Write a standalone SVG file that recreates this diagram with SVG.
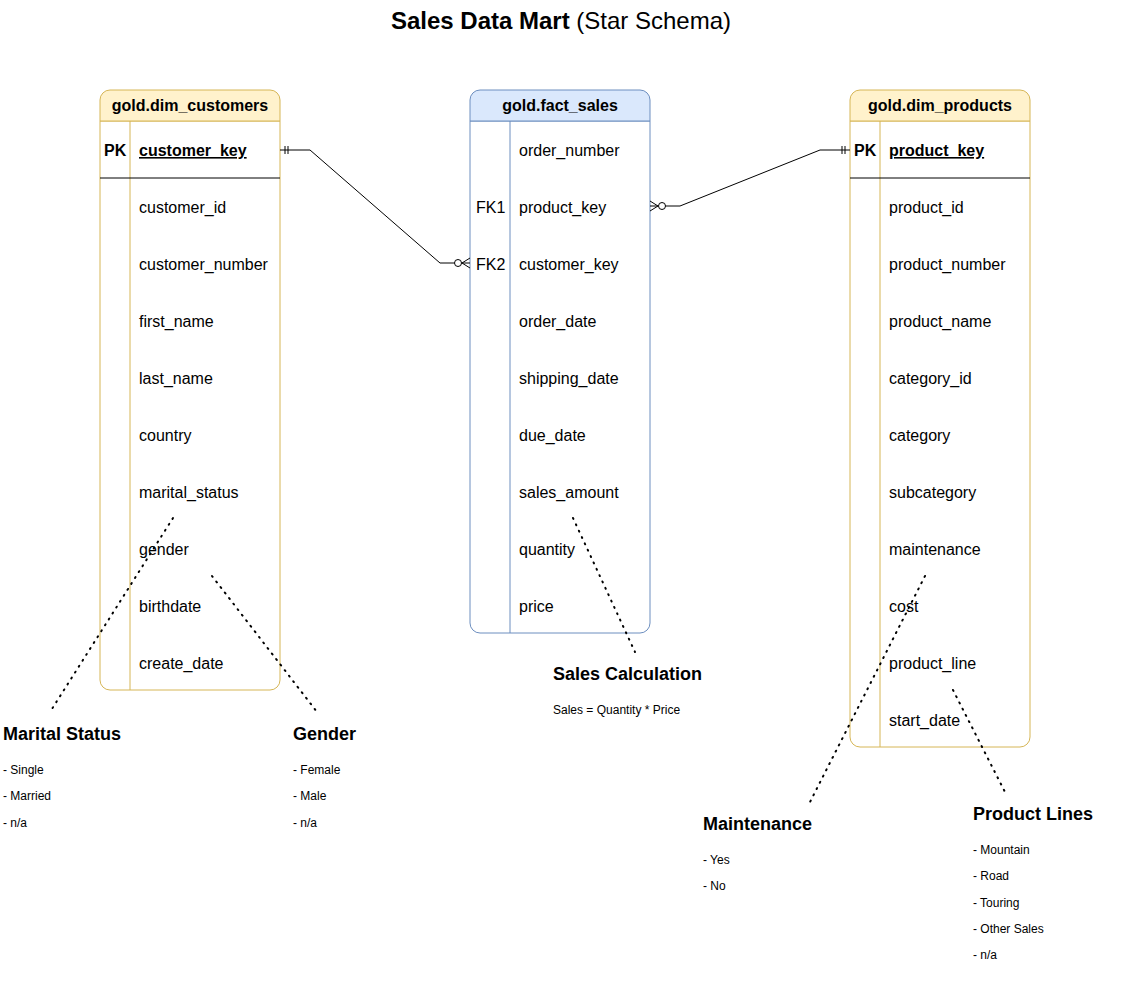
<svg xmlns="http://www.w3.org/2000/svg" width="1140" height="983" viewBox="0 0 1140 983">
<style>
text{font-family:"Liberation Sans",Arial,sans-serif;fill:#000}
.hdr{font-size:16px;font-weight:bold;text-anchor:middle}
.fld{font-size:16px}
.pk{font-size:16px;font-weight:bold}
.pkf{font-size:16px;font-weight:bold;text-decoration:underline}
.y{fill:#fff2cc;stroke:#d6b656;stroke-width:1}
.yb{fill:#ffffff;stroke:#d6b656;stroke-width:1}
.yl{stroke:#d6b656;stroke-width:1}
.b{fill:#dae8fc;stroke:#6c8ebf;stroke-width:1}
.bb{fill:#ffffff;stroke:#6c8ebf;stroke-width:1}
.bl{stroke:#6c8ebf;stroke-width:1}
.sep{stroke:#000;stroke-width:1}
.conn{fill:none;stroke:#000;stroke-width:1}
.dot{fill:none;stroke:#000;stroke-width:2;stroke-dasharray:1 6;stroke-linecap:round}
.nt{font-size:18px;font-weight:bold}
.ni{font-size:12px}
</style>
<text x="561" y="29" style="font-size:24px;text-anchor:middle"><tspan font-weight="bold">Sales Data Mart</tspan> (Star Schema)</text>

<g id="dim_customers">
<path class="yb" d="M100,121 H280 V680 A10,10 0 0 1 270,690 H110 A10,10 0 0 1 100,680 Z"/>
<path class="y" d="M110,90 H270 A10,10 0 0 1 280,100 V121 H100 V100 A10,10 0 0 1 110,90 Z"/>
<text class="hdr" x="190" y="111">gold.dim_customers</text>
<line class="yl" x1="130" y1="121" x2="130" y2="690"/>
<line class="sep" x1="100" y1="178" x2="280" y2="178"/>
<text class="pk" x="104" y="156">PK</text>
<text class="pkf" x="139" y="156">customer_key</text>
<text class="fld" x="139" y="213">customer_id</text>
<text class="fld" x="139" y="270">customer_number</text>
<text class="fld" x="139" y="327">first_name</text>
<text class="fld" x="139" y="384">last_name</text>
<text class="fld" x="139" y="441">country</text>
<text class="fld" x="139" y="498">marital_status</text>
<text class="fld" x="139" y="555">gender</text>
<text class="fld" x="139" y="612">birthdate</text>
<text class="fld" x="139" y="669">create_date</text>
</g>

<g id="fact_sales">
<path class="bb" d="M470,121 H650 V623 A10,10 0 0 1 640,633 H480 A10,10 0 0 1 470,623 Z"/>
<path class="b" d="M480,90 H640 A10,10 0 0 1 650,100 V121 H470 V100 A10,10 0 0 1 480,90 Z"/>
<text class="hdr" x="560" y="111">gold.fact_sales</text>
<line class="bl" x1="510" y1="121" x2="510" y2="633"/>
<text class="fld" x="519" y="156">order_number</text>
<text class="fld" x="476" y="213">FK1</text>
<text class="fld" x="519" y="213">product_key</text>
<text class="fld" x="476" y="270">FK2</text>
<text class="fld" x="519" y="270">customer_key</text>
<text class="fld" x="519" y="327">order_date</text>
<text class="fld" x="519" y="384">shipping_date</text>
<text class="fld" x="519" y="441">due_date</text>
<text class="fld" x="519" y="498">sales_amount</text>
<text class="fld" x="519" y="555">quantity</text>
<text class="fld" x="519" y="612">price</text>
</g>

<g id="dim_products">
<path class="yb" d="M850,121 H1030 V737 A10,10 0 0 1 1020,747 H860 A10,10 0 0 1 850,737 Z"/>
<path class="y" d="M860,90 H1020 A10,10 0 0 1 1030,100 V121 H850 V100 A10,10 0 0 1 860,90 Z"/>
<text class="hdr" x="940" y="111">gold.dim_products</text>
<line class="yl" x1="880" y1="121" x2="880" y2="747"/>
<line class="sep" x1="850" y1="178" x2="1030" y2="178"/>
<text class="pk" x="854" y="156">PK</text>
<text class="pkf" x="889" y="156">product_key</text>
<text class="fld" x="889" y="213">product_id</text>
<text class="fld" x="889" y="270">product_number</text>
<text class="fld" x="889" y="327">product_name</text>
<text class="fld" x="889" y="384">category_id</text>
<text class="fld" x="889" y="441">category</text>
<text class="fld" x="889" y="498">subcategory</text>
<text class="fld" x="889" y="555">maintenance</text>
<text class="fld" x="889" y="612">cost</text>
<text class="fld" x="889" y="669">product_line</text>
<text class="fld" x="889" y="726">start_date</text>
</g>

<g id="connectors">
<path class="conn" d="M280,150 H310 L440,263 H470"/>
<line class="conn" x1="285" y1="146" x2="285" y2="154"/>
<line class="conn" x1="288" y1="146" x2="288" y2="154"/>
<circle cx="458" cy="263" r="3.5" fill="#fff" stroke="#000"/>
<path class="conn" d="M470,258 L462,263 L470,268"/>
<path class="conn" d="M850,150 H820 L680,206 H650"/>
<line class="conn" x1="845" y1="146" x2="845" y2="154"/>
<line class="conn" x1="842" y1="146" x2="842" y2="154"/>
<circle cx="662" cy="206" r="3.5" fill="#fff" stroke="#000"/>
<path class="conn" d="M650,201 L658,206 L650,211"/>
<line class="dot" x1="173" y1="518" x2="50" y2="712"/>
<line class="dot" x1="212" y1="576" x2="317" y2="712"/>
<line class="dot" x1="573" y1="518" x2="635" y2="652"/>
<line class="dot" x1="925" y1="576" x2="810" y2="802"/>
<line class="dot" x1="953" y1="690" x2="1005" y2="792"/>
</g>

<g id="note_marital">
<text class="nt" x="3" y="740">Marital Status</text>
<text class="ni" x="3" y="774">- Single</text>
<text class="ni" x="3" y="800">- Married</text>
<text class="ni" x="3" y="827">- n/a</text>
</g>
<g id="note_gender">
<text class="nt" x="293" y="740">Gender</text>
<text class="ni" x="293" y="774">- Female</text>
<text class="ni" x="293" y="800">- Male</text>
<text class="ni" x="293" y="827">- n/a</text>
</g>
<g id="note_sales">
<text class="nt" x="553" y="680">Sales Calculation</text>
<text class="ni" x="553" y="714">Sales = Quantity * Price</text>
</g>
<g id="note_maintenance">
<text class="nt" x="703" y="830">Maintenance</text>
<text class="ni" x="703" y="864">- Yes</text>
<text class="ni" x="703" y="890">- No</text>
</g>
<g id="note_productlines">
<text class="nt" x="973" y="820">Product Lines</text>
<text class="ni" x="973" y="854">- Mountain</text>
<text class="ni" x="973" y="880">- Road</text>
<text class="ni" x="973" y="907">- Touring</text>
<text class="ni" x="973" y="933">- Other Sales</text>
<text class="ni" x="973" y="959">- n/a</text>
</g>
</svg>
